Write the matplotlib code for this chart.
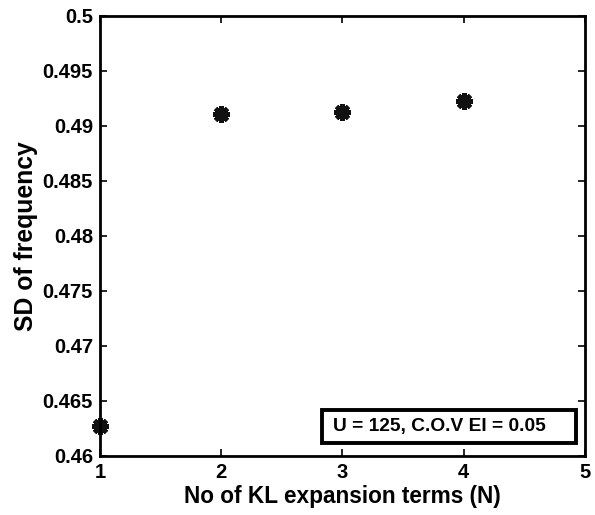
import matplotlib
matplotlib.use("Agg")
import matplotlib.pyplot as plt
from matplotlib.patches import Rectangle

plt.rcParams['font.family'] = ['Liberation Sans', 'DejaVu Sans']
plt.rcParams['font.weight'] = 'bold'

# SD of frequency vs number of KL terms
n_terms = [1, 2, 3, 4]
sd_freq = [0.4627, 0.4911, 0.4913, 0.4923]
y_ticks = [0.46, 0.465, 0.47, 0.475, 0.48, 0.485, 0.49, 0.495, 0.5]
x_ticks = [1, 2, 3, 4, 5]

fig = plt.figure(figsize=(5.95, 5.15), dpi=100)
ax = fig.add_axes([0.168, 0.1146, 0.815, 0.8544])

ax.plot(n_terms, sd_freq, linestyle='none', marker=(8, 2, 0),
        markersize=12, markeredgewidth=3.2, color='#111111', clip_on=False)

ax.set_xlim(1, 5)
ax.set_ylim(0.46, 0.5)
ax.set_xticks(x_ticks)
ax.set_xticklabels([str(v) for v in x_ticks])
ax.set_yticks(y_ticks)
ax.set_yticklabels(['%g' % v for v in y_ticks])
ax.tick_params(direction='in', top=True, right=True, length=5, width=1.2,
               labelsize=14.5, pad=5)
for s in ax.spines.values():
    s.set_linewidth(2)

ax.set_xlabel('No of KL expansion terms (N)', fontsize=16.3, fontweight='bold', labelpad=2)
ax.set_ylabel('SD of frequency', fontsize=17.8, fontweight='bold', labelpad=3)

# annotation box, text left-aligned inside a wider frame
ax.add_patch(Rectangle((0.458, 0.030), 0.523, 0.075, transform=ax.transAxes,
                       facecolor='white', edgecolor='black', linewidth=2.8,
                       zorder=4))
ax.text(0.480, 0.066, 'U = 125, C.O.V EI = 0.05', transform=ax.transAxes,
        ha='left', va='center', fontsize=13.8, fontweight='bold', zorder=5)

fig.savefig('out.png', dpi=100)
